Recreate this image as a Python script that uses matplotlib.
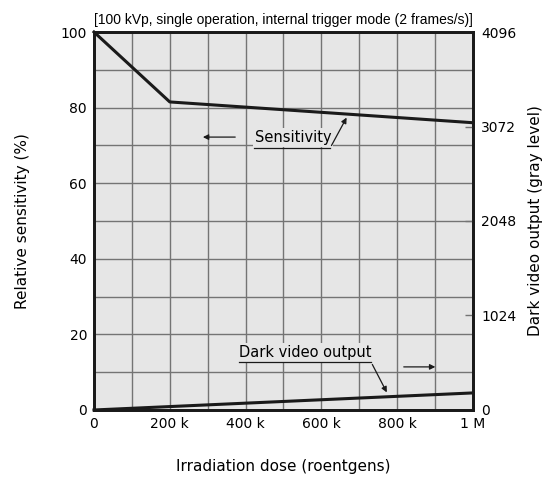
import matplotlib
matplotlib.use("Agg")
import matplotlib.pyplot as plt
import numpy as np

# Data
sens_x = [0, 200e3, 1e6]
sens_y = [100, 81.5, 76.0]
dark_x = [0, 1e6]
dark_y = [0, 185]
x_ticks = [0, 200e3, 400e3, 600e3, 800e3, 1e6]
x_ticklabels = ["0", "200 k", "400 k", "600 k", "800 k", "1 M"]
y_ticks = [0, 20, 40, 60, 80, 100]
y2_ticks = [0, 1024, 2048, 3072, 4096]

fig = plt.figure(figsize=(5.47, 4.82), dpi=100)
ax = fig.add_axes([0.1718, 0.1494, 0.6929, 0.7842])
ax.set_facecolor("#e6e6e6")
ax.set_xlim(0, 1e6)
ax.set_ylim(0, 100)

# grid
for gx in np.arange(1e5, 1e6, 1e5):
    ax.axvline(gx, color="#747474", lw=1.0, zorder=1)
for gy in np.arange(10, 100, 10):
    ax.axhline(gy, color="#747474", lw=1.0, zorder=1)

ax.plot(sens_x, sens_y, color="#1a1a1a", lw=2.2, zorder=3, clip_on=False)

ax2 = ax.twinx()
ax2.set_ylim(0, 4096)
ax2.plot(dark_x, dark_y, color="#1a1a1a", lw=2.2, zorder=3, clip_on=False)

for a in (ax, ax2):
    for s in a.spines.values():
        s.set_linewidth(2.0)
        s.set_color("#1a1a1a")

ax.set_xticks(x_ticks)
ax.set_xticklabels(x_ticklabels)
ax.set_yticks(y_ticks)
ax.tick_params(axis="both", length=0, labelsize=10, pad=5)
ax2.set_yticks(y2_ticks)
ax2.tick_params(axis="y", direction="in", length=6, width=1, color="#747474", labelsize=10, pad=6)

ax.set_xlabel("Irradiation dose (roentgens)", fontsize=11, labelpad=20)
ax.set_ylabel("Relative sensitivity (%)", fontsize=11, labelpad=22)
ax2.set_ylabel("Dark video output (gray level)", fontsize=11, labelpad=8)

ax.text(0.5, 1.012, "[100 kVp, single operation, internal trigger mode (2 frames/s)]",
        transform=ax.transAxes, ha="center", va="bottom", fontsize=10,
        family=["Liberation Sans", "DejaVu Sans"])

# Sensitivity annotation
ax.text(525e3, 72.0, "Sensitivity", ha="center", va="center", fontsize=10.5, zorder=5,
        bbox=dict(facecolor="#e6e6e6", edgecolor="none", pad=1.5))
ax.plot([422e3, 623e3], [69.3, 69.3], color="#1a1a1a", lw=0.9, zorder=5)
ax.annotate("", xy=(670e3, 78.0), xytext=(623e3, 69.3),
            arrowprops=dict(arrowstyle="-|>", color="#1a1a1a", lw=0.9, mutation_scale=8), zorder=5)
ax.annotate("", xy=(280e3, 72.2), xytext=(380e3, 72.2),
            arrowprops=dict(arrowstyle="-|>", color="#1a1a1a", lw=0.9, mutation_scale=8), zorder=5)

# Dark video output annotation
ax.text(557e3, 15.2, "Dark video output", ha="center", va="center", fontsize=10.5, zorder=5,
        bbox=dict(facecolor="#e6e6e6", edgecolor="none", pad=1.5))
ax.plot([383e3, 731e3], [12.7, 12.7], color="#1a1a1a", lw=0.9, zorder=5)
ax.annotate("", xy=(776e3, 4.0), xytext=(731e3, 12.7),
            arrowprops=dict(arrowstyle="-|>", color="#1a1a1a", lw=0.9, mutation_scale=8), zorder=5)
ax.annotate("", xy=(908e3, 11.4), xytext=(810e3, 11.4),
            arrowprops=dict(arrowstyle="-|>", color="#1a1a1a", lw=0.9, mutation_scale=8), zorder=5)

fig.savefig("out.png", dpi=100)
